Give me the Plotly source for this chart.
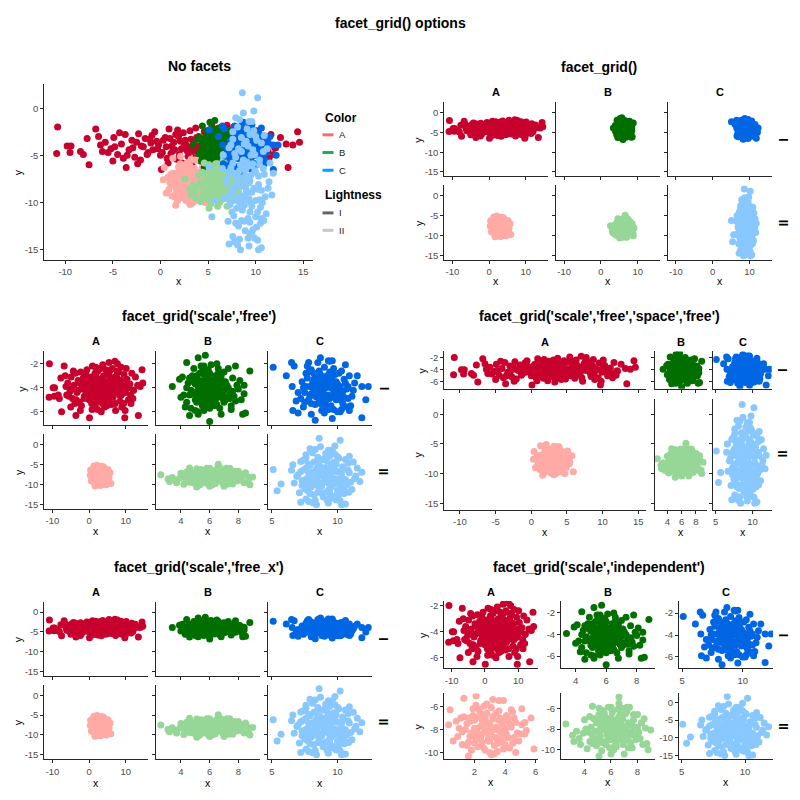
import plotly.graph_objects as go

# ---------------- data ----------------
A1_X = [-10.8, -10.9, -9.8, -9.4, -9.5, -8.4, -8.1, -7.5, -7.7, -6.8, -6.5, -6.1, -3.6, -2.4, 0.1, 9.7, 9.8, 13.4, 14.4, 14.6, 13.9, 13.2, 12.1, 11.9, 7.0, 7.7,
        -5.8, -5.2, -4.9, -4.5, -4.1, -3.7, -3.3, -3.0, -2.7, -2.3, -2.0, -1.6, -1.3, -1.0, -0.6, -0.3, 0.0, 0.3, 0.6, 0.9,
        1.1, 1.4, 1.7, 1.9, 2.2, 2.4, 2.7, 2.9, 3.2, 3.4, 3.7, 3.9, 4.2, 4.4, 4.7, 4.9, 5.2, 5.5, 5.7, 6.0,
        6.3, 6.5, 6.8, 7.1, 7.4, 7.7, 8.0, 8.3, 8.6, 8.9, 9.2, 9.5, 9.9, 10.3, 10.7, 11.1, 11.6, 12.0,
        -4.8, -2.5, -0.8, 0.5, 1.2, 2.0, 2.6, 3.0, 3.5, 4.0, 4.5, 5.0, 5.9, 6.6, 7.3, 8.1, 8.8, 10.0, -1.8, 1.6, 3.3, 5.4, -3.9, 11.3,
        -5.5, -4.3, -3.5, -2.9, -2.1, -1.4, -0.9, -0.4, 0.2, 0.7, 1.0, 1.5, 1.8, 2.3, 2.5, 2.8, 3.1, 3.6, 3.8, 4.1,
        4.6, 4.8, 5.3, 5.6, 6.1, 6.4, 6.9, 7.2, 7.6, 7.9, 8.4, 8.7, 9.0, 9.4, 10.1, 10.5, 11.4, -6.3, -5.0, 12.6,
        -1.1, 0.8, 2.1, 4.3, 6.2, 8.2, 3.6, 1.3, 5.8, -0.2]
A1_Y = [-2.0, -4.8, -4.0, -4.0, -4.7, -4.6, -4.9, -6.0, -3.2, -2.2, -3.0, -4.6, -6.3, -5.9, -6.5, -6.5, -5.9, -6.3, -2.5, -3.6, -3.9, -3.8, -4.2, -4.9, -1.8, -2.0,
        -3.6, -4.3, -3.1, -4.9, -3.8, -2.8, -4.4, -3.4, -5.2, -2.7, -4.0, -3.2, -4.7, -3.7, -2.5, -4.3, -5.0, -3.4, -4.1, -2.2,
        -4.8, -3.6, -5.4, -3.0, -4.3, -2.6, -3.9, -5.1, -3.3, -4.6, -2.1, -4.0, -5.6, -3.5, -4.4, -2.8, -3.9, -5.0, -3.1, -4.2,
        -2.4, -4.8, -3.6, -5.3, -3.0, -4.1, -2.7, -4.6, -3.4, -5.6, -3.9, -2.9, -4.4, -3.3, -5.0, -3.7, -2.8, -4.2,
        -4.1, -3.6, -4.4, -3.1, -4.0, -4.9, -3.4, -4.2, -3.8, -3.0, -5.2, -4.0, -3.5, -4.3, -3.9, -4.0, -4.6, -3.8, -4.1, -2.8, -6.0, -1.9, -5.3, -4.6,
        -4.7, -2.6, -5.0, -4.2, -5.5, -4.9, -2.9, -3.5, -4.7, -5.3, -3.2, -4.4, -2.3, -5.8, -3.7, -4.5, -2.4, -5.3, -3.1, -4.8,
        -2.5, -5.5, -4.6, -2.6, -5.4, -3.2, -4.4, -5.9, -2.6, -3.3, -5.1, -2.3, -4.1, -5.3, -2.4, -4.0, -5.3, -3.9, -5.6, -3.1,
        -3.3, -5.8, -3.5, -4.1, -3.8, -3.7, -4.4, -4.5, -4.7, -3.9]

B1_X = [3.4, 4.0, 4.4, 5.2, 5.7, 6.0, 7.8, 8.8, 8.4, 8.4, 8.3, 8.5, 7.5, 4.6, 5.2, 6.8, 3.9, 4.1, 4.3,
        4.6, 4.8, 5.0, 5.1, 5.3, 5.4, 5.5, 5.6, 5.7, 5.8, 5.9, 6.0, 6.1, 6.2, 6.3, 6.4, 6.5, 6.6, 6.7, 6.8,
        6.9, 7.0, 7.1, 7.2, 7.4, 7.6, 7.8, 4.4, 4.2, 4.7, 4.9, 5.2, 5.6, 6.1, 6.6, 7.3, 7.5, 8.0, 8.1, 4.5,
        5.0, 5.3, 5.5, 5.8, 5.9, 6.2, 6.4, 6.7, 6.9, 7.0, 5.2, 5.7, 6.3, 6.0, 4.8, 7.7, 5.4, 6.5,
        5.5, 6.0, 6.3, 5.7, 6.1, 5.4, 6.6, 5.9,
        4.7, 5.0, 5.3, 5.6, 5.9, 6.2, 6.5, 6.8, 7.1, 7.4, 4.9, 5.2, 5.5, 5.8, 6.1, 6.4, 6.7, 7.0, 7.3, 7.6,
        5.1, 5.4, 5.7, 6.0, 6.3, 6.6, 6.9, 4.6, 7.9, 5.0, 6.0, 6.4, 5.3, 6.8, 5.6, 7.2, 4.4, 8.2, 5.8, 6.2]
B1_Y = [-3.9, -4.8, -1.9, -1.5, -1.3, -6.8, -2.2, -2.6, -3.8, -4.5, -6.2, -6.1, -5.5, -6.3, -6.2, -6.2, -3.3, -3.1, -5.6,
        -3.2, -4.5, -3.7, -5.2, -2.8, -4.1, -4.9, -3.4, -5.6, -4.0, -2.5, -4.6, -3.6, -5.3, -4.2, -3.0, -4.8, -3.9, -5.7, -3.3,
        -4.4, -2.7, -5.0, -3.8, -4.5, -3.2, -5.1, -4.0, -4.6, -5.7, -2.4, -6.0, -2.2, -2.1, -2.4, -2.4, -5.8, -4.1, -3.4, -3.6,
        -4.4, -3.4, -5.5, -3.1, -4.8, -4.0, -5.0, -4.5, -3.6, -4.2, -4.7, -4.4, -3.4, -5.7, -3.0, -4.7, -2.2, -2.0,
        -3.9, -3.3, -4.9, -4.7, -4.3, -3.6, -3.5, -5.2,
        -4.2, -5.0, -3.9, -2.9, -4.5, -3.7, -5.4, -4.1, -3.5, -4.9, -3.5, -4.1, -2.6, -5.3, -3.9, -4.7, -3.1, -5.2, -4.0, -4.3,
        -3.0, -5.0, -3.7, -4.1, -5.5, -2.8, -4.9, -4.6, -3.8, -5.9, -2.8, -4.3, -4.4, -3.0, -5.9, -4.8, -5.2, -5.0, -4.4, -3.8]

C1_X = [5.1, 6.1, 6.5, 6.7, 7.8, 8.7, 9.3, 9.6, 11.5, 11.85, 12.35, 12.15, 11.85, 10.9, 10.2, 8.3, 9.6, 6.6, 7.0, 6.85, 6.55,
        7.3, 7.5, 7.6, 7.8, 7.9, 8.0, 8.1, 8.2, 8.3, 8.4, 8.5, 8.6, 8.7, 8.8, 8.9, 9.0, 9.1, 9.2, 9.3, 9.4,
        9.5, 9.6, 9.7, 9.8, 9.9, 10.0, 10.1, 10.3, 10.4, 10.5, 10.7, 10.9, 11.1, 11.3, 7.2, 7.4, 7.7, 8.0, 8.5, 9.0,
        9.4, 10.0, 10.6, 11.0, 8.3, 8.8, 9.1, 9.6, 10.2, 8.6, 9.3, 9.9, 8.1, 10.8, 7.6, 9.7,
        8.7, 9.2, 8.4, 9.5, 9.0, 8.9,
        7.4, 7.7, 8.0, 8.3, 8.6, 8.9, 9.2, 9.5, 9.8, 10.1, 10.4, 10.7, 7.9, 8.2, 8.5, 8.8, 9.1, 9.4, 9.7, 10.0,
        10.3, 10.6, 7.5, 8.1, 8.7, 9.3, 9.9, 10.5, 11.2, 7.0, 8.4, 9.0, 9.6, 10.2, 8.0, 9.4, 10.8, 8.6, 9.8, 7.8]
C1_Y = [-2.3, -3.0, -1.9, -2.2, -1.9, -1.5, -1.75, -1.75, -3.0, -3.9, -3.9, -5.0, -6.5, -5.9, -6.0, -6.7, -6.55, -5.9, -6.1, -5.1, -3.9,
        -3.5, -4.4, -2.8, -5.0, -3.9, -2.5, -4.6, -3.3, -5.4, -4.1, -2.9, -4.8, -3.6, -5.9, -4.3, -2.3, -5.1, -3.8, -4.6, -2.7,
        -5.5, -3.4, -4.2, -2.9, -5.0, -3.7, -4.5, -2.6, -5.3, -3.3, -4.1, -3.0, -4.7, -3.6, -4.9, -5.6, -2.2, -6.2, -1.9, -6.1,
        -1.8, -6.0, -2.1, -5.5, -3.9, -3.1, -4.0, -4.7, -3.9, -5.2, -3.2, -3.5, -3.6, -4.9, -3.9, -5.8,
        -4.4, -3.0, -4.8, -4.0, -3.5, -5.0,
        -4.0, -3.2, -5.3, -4.4, -2.6, -3.9, -5.6, -3.7, -4.5, -2.8, -4.3, -5.6, -4.7, -2.8, -3.9, -5.4, -3.3, -4.9, -2.4, -4.2,
        -5.8, -3.6, -5.2, -4.0, -2.9, -5.8, -4.0, -4.8, -4.2, -4.4, -3.4, -4.7, -3.0, -5.0, -4.5, -3.5, -3.9, -3.8, -4.8, -2.7]

A2_X = [0.4, 0.3, 0.6, 1.3, 2.1, 1.6, 3.2, 3.6, 3.9, 5.1, 5.7, 5.9, 4.7, 3.1, 5.4, 5.3,
        1.5, 1.7, 1.9, 2.0, 2.2, 2.3, 2.4, 2.5, 2.6, 2.7, 2.8, 2.9, 3.0, 3.1, 3.2, 3.3, 3.4, 3.5, 3.6, 3.7,
        3.8, 3.9, 4.0, 4.1, 4.2, 4.3, 4.5, 4.6, 4.8, 1.2, 1.3, 1.0, 1.8, 2.1, 2.6, 3.0, 3.5, 4.4, 4.9, 5.1,
        2.2, 2.8, 3.3, 3.8, 2.5, 3.6, 1.6, 4.0, 2.0, 3.1, 0.9, 4.7,
        2.4, 3.0, 2.7, 3.4, 3.9, 2.1,
        1.4, 1.7, 2.0, 2.3, 2.6, 2.9, 3.2, 3.5, 3.8, 4.1, 4.4, 1.6, 1.9, 2.2, 2.5, 2.8, 3.1, 3.4, 3.7, 4.0,
        4.3, 4.6, 1.1, 1.5, 2.4, 3.3, 4.2, 5.0, 0.8, 2.7, 3.6, 4.5, 2.0, 3.0, 4.0, 1.8, 2.9, 3.7, 5.3, 1.2]
A2_Y = [-6.3, -7.6, -9.0, -5.3, -5.1, -10.3, -5.4, -5.5, -5.5, -6.2, -7.0, -9.7, -10.0, -10.2, -8.1, -8.4,
        -7.5, -8.6, -6.8, -9.2, -7.9, -6.3, -8.8, -7.2, -9.6, -8.1, -6.6, -9.0, -7.6, -8.5, -6.9, -9.4, -7.8, -8.9, -6.4, -8.2,
        -7.3, -9.7, -8.0, -6.8, -8.7, -7.5, -9.2, -7.0, -8.3, -8.2, -6.9, -7.9, -9.8, -5.9, -6.0, -10.0, -9.9, -6.3, -9.0, -7.6,
        -8.4, -7.4, -8.0, -8.6, -9.1, -7.2, -7.0, -9.3, -7.2, -6.1, -8.6, -7.4,
        -7.7, -8.3, -7.0, -8.7, -7.8, -8.9,
        -8.0, -7.3, -8.5, -6.9, -7.7, -8.3, -7.1, -9.2, -7.6, -8.4, -7.8, -9.1, -6.2, -9.5, -8.4, -5.8, -7.9, -6.6, -9.1, -7.2,
        -9.6, -8.7, -7.0, -9.4, -6.6, -10.1, -7.0, -8.4, -7.3, -9.8, -8.1, -6.5, -7.9, -9.0, -8.7, -8.3, -8.8, -7.0, -7.4, -9.3]

B2_X = [2.6, 3.1, 3.2, 3.6, 3.7, 4.0, 4.6, 5.1, 5.1, 5.8, 6.0, 6.6, 6.6, 7.2, 7.4, 8.0, 8.6, 9.0, 8.7, 8.8, 8.4, 7.0, 6.0, 7.6,
        4.5, 4.7, 4.8, 4.9, 5.0, 5.1, 5.2, 5.3, 5.4, 5.5, 5.6, 5.7, 5.8, 5.9, 6.0, 6.1, 6.2, 6.3, 6.4, 6.5,
        6.6, 6.7, 6.8, 6.9, 7.0, 7.1, 7.2, 7.3, 7.5, 7.7, 7.9, 8.1, 4.3, 4.4, 4.2, 5.3, 6.2, 6.8, 7.6, 8.3,
        5.6, 6.0, 6.4, 5.0, 5.7, 6.6, 7.2, 4.6, 5.4, 6.9, 6.3, 5.9,
        5.5, 6.1, 5.8, 6.5, 5.2, 6.8,
        4.6, 4.9, 5.2, 5.5, 5.8, 6.1, 6.4, 6.7, 7.0, 7.3, 7.6, 4.8, 5.1, 5.4, 5.7, 6.0, 6.3, 6.6, 6.9, 7.2,
        7.5, 7.8, 4.1, 4.4, 5.0, 5.9, 6.5, 7.1, 8.2, 8.5, 3.9, 5.3, 6.2, 7.4, 8.0, 4.7, 5.6, 6.8, 7.7, 3.4]
B2_Y = [-7.5, -8.6, -9.2, -8.9, -9.5, -7.1, -5.8, -6.0, -10.6, -5.9, -5.9, -4.9, -5.5, -5.9, -5.9, -6.6, -7.9, -8.1, -9.4, -10.0, -9.5, -10.4, -10.4, -8.2,
        -7.8, -8.9, -7.0, -9.6, -8.2, -6.6, -8.7, -7.4, -9.3, -8.0, -6.9, -8.5, -7.6, -9.8, -8.1, -6.4, -8.8, -7.3, -9.2, -7.9,
        -6.8, -8.4, -7.6, -9.5, -8.0, -6.5, -8.9, -7.4, -8.6, -7.1, -9.0, -8.3, -8.3, -6.8, -9.9, -10.1, -10.0, -6.0, -9.8, -7.4,
        -7.8, -9.0, -7.1, -8.9, -9.1, -8.6, -7.7, -9.4, -6.2, -7.0, -8.4, -7.2,
        -7.5, -8.5, -8.3, -8.2, -7.9, -8.8,
        -8.6, -7.4, -9.1, -6.5, -8.8, -7.3, -9.7, -6.6, -8.7, -9.8, -7.6, -8.2, -9.3, -7.0, -8.1, -6.9, -9.6, -7.4, -8.3, -6.3,
        -9.3, -8.5, -8.0, -9.2, -7.2, -8.6, -6.1, -9.1, -8.9, -7.0, -8.4, -8.1, -7.6, -8.3, -7.8, -7.0, -9.5, -9.0, -6.6, -8.2]

C2_X = [5.1, 5.4, 5.7, 8.6, 10.2, 7.6, 8.3, 9.3, 9.6, 10.9, 11.85, 11.7, 7.8, 8.4, 10.3, 10.2, 9.4, 10.85, 6.6, 6.5, 6.7,
        7.0, 7.2, 7.3, 7.4, 7.5, 7.6, 7.7, 7.8, 7.9, 8.0, 8.1, 8.2, 8.3, 8.4, 8.5, 8.6, 8.7, 8.8, 8.9, 9.0,
        9.1, 9.2, 9.3, 9.4, 9.5, 9.6, 9.7, 9.8, 9.9, 10.0, 10.1, 10.2, 10.3, 10.4, 10.5, 10.6, 10.8, 11.0, 11.2, 11.4,
        7.1, 7.6, 8.1, 8.7, 9.3, 9.9, 10.6, 8.4, 9.0, 9.6, 8.8, 9.2, 8.0, 10.0, 7.4, 9.5, 10.4, 8.5, 11.1, 7.9,
        9.8, 11.5, 7.2, 8.2, 9.4, 8.9, 9.1,
        7.3, 7.6, 7.9, 8.2, 8.5, 8.8, 9.1, 9.4, 9.7, 10.0, 10.3, 10.6, 10.9, 7.5, 7.8, 8.1, 8.4, 8.7, 9.0, 9.3,
        9.6, 9.9, 10.2, 10.5, 10.8, 7.2, 7.7, 8.3, 8.9, 9.5, 10.1, 10.7, 8.0, 8.6, 9.2, 9.8, 10.4, 7.4, 8.8, 9.6,
        11.3, 6.9, 9.0, 10.0, 8.2, 9.4, 8.5, 9.7, 7.7, 10.6]
C2_Y = [-6.2, -11.5, -9.8, 1.65, 1.1, -2.5, -1.2, -1.4, -1.4, -2.9, -6.9, -9.2, -14.2, -15.0, -15.0, -14.0, -13.3, -11.9, -5.0, -6.4, -9.6,
        -7.5, -4.2, -10.2, -6.3, -8.8, -3.3, -11.4, -7.0, -5.2, -9.5, -2.0, -12.5, -6.6, -8.3, -4.6, -10.8, -7.4, -3.8, -13.0, -9.0,
        -5.7, -11.7, -7.9, -2.8, -10.0, -6.1, -12.9, -8.5, -4.9, -9.8, -3.4, -11.0, -7.2, -5.5, -12.2, -8.7, -6.4, -9.4, -4.3, -7.8,
        -12.0, -13.6, -14.5, -0.5, -14.6, -13.8, -14.8, -6.0, -7.2, -8.9, -10.3, -4.0, -8.1, -6.8, -9.2, -5.0, -9.7, -11.9, -11.2, -1.0,
        -0.3, -5.8, -14.4, -9.9, -11.0, -6.5, -2.2,
        -9.0, -5.8, -12.2, -7.5, -3.1, -9.9, -6.2, -12.1, -4.4, -11.5, -8.1, -3.7, -7.0, -11.0, -4.8, -6.9, -10.1, -5.5, -3.5, -9.6,
        -13.3, -6.6, -8.6, -10.5, -4.6, -6.7, -8.4, -13.9, -8.0, -7.1, -12.6, -10.0, -10.6, -6.3, -13.8, -2.4, -6.0, -3.9, -12.0, -10.4,
        -8.5, -7.9, -8.6, -3.0, -4.3, -7.7, -9.3, -5.9, -9.7, -11.7]

COLOR_NAMES = ["A", "B", "C"]
LIGHTNESS_NAMES = ["I", "II"]
GROUP_ORDER = ["A-I", "A-II", "B-I", "B-II", "C-I", "C-II"]
GROUP_COLORS = {"A-I": "#c8002e", "A-II": "#ffaaa5", "B-I": "#006f00", "B-II": "#96d696",
                "C-I": "#0066e3", "C-II": "#88c8ff"}
LEGEND_COLOR_SWATCH = ["#ff6b6b", "#1ab04c", "#00a2ff"]
LEGEND_LIGHT_SWATCH = ["#666666", "#c8c8c8"]

TICKS_XWIDE = [-10, -5, 0, 5, 10, 15]
TICKS_XA = [-10, 0, 10]
TICKS_XB = [4, 6, 8]
TICKS_XC = [5, 10]
TICKS_XA2 = [2, 4, 6]
TICKS_YFULL = [0, -5, -10, -15]
TICKS_YI = [-2, -4, -6]
TICKS_YII = [-6, -8, -10]

MAIN_TITLE = "facet_grid() options"
PANEL_TITLES = ["No facets", "facet_grid()", "facet_grid('scale','free')",
                "facet_grid('scale','free','space','free')", "facet_grid('scale','free_x')",
                "facet_grid('scale','independent')"]

GROUPS = {"A-I": (A1_X, A1_Y), "A-II": (A2_X, A2_Y), "B-I": (B1_X, B1_Y),
          "B-II": (B2_X, B2_Y), "C-I": (C1_X, C1_Y), "C-II": (C2_X, C2_Y)}

# ---------------- figure ----------------
W = H = 800
FONT = "Liberation Sans, Arial, Helvetica, sans-serif"
AX = "#262626"
TK = "#4d4d4d"


def fx(p):
    return p / W


def fy(p):
    return 1 - p / H


fig = go.Figure()
counter = [0]
annotations = []
shapes = []


def lab(v):
    return "%g" % v


def text(x, y, s, size, bold=False, angle=0, xanchor="center", color="#000"):
    annotations.append(dict(x=fx(x), y=fy(y), xref="paper", yref="paper",
                            text=("<b>%s</b>" % s) if bold else s, showarrow=False,
                            font=dict(family=FONT, size=size, color=color),
                            xanchor=xanchor, yanchor="middle", textangle=angle, borderpad=0))


def cell(xpx, ypx, xr, yr, xt, yt, show_xl, show_yl, groups):
    counter[0] += 1
    n = counter[0]
    s = "" if n == 1 else str(n)
    common = dict(showline=True, linecolor=AX, linewidth=1, ticks="outside", ticklen=3,
                  tickcolor=AX, tickwidth=1, showgrid=False, zeroline=False, fixedrange=True,
                  tickfont=dict(family=FONT, size=9.5, color=TK))
    fig.update_layout(**{
        "xaxis" + s: dict(domain=[fx(xpx[0]), fx(xpx[1])], range=xr, anchor="y" + s,
                          tickmode="array", tickvals=xt, ticktext=[lab(v) for v in xt],
                          showticklabels=show_xl, **common),
        "yaxis" + s: dict(domain=[fy(ypx[1]), fy(ypx[0])], range=yr, anchor="x" + s,
                          tickmode="array", tickvals=yt, ticktext=[lab(v) for v in yt],
                          showticklabels=show_yl, **common),
    })
    for g in groups:
        gx, gy = GROUPS[g]
        fig.add_trace(go.Scatter(x=gx, y=gy, mode="markers", xaxis="x" + s, yaxis="y" + s,
                                 marker=dict(size=7, color=GROUP_COLORS[g], line=dict(width=0)),
                                 showlegend=False, hoverinfo="skip"))


XR_ALL = [-12.2, 16.05]
YR_ALL = [-16.1, 2.6]
XR_B = [2.27, 9.5]
XR_C = [4.7, 12.6]
YR_I = [-7.13, -0.98]

# Panel 1 : no facets
cell((44.3, 313.3), (83, 260), XR_ALL, YR_ALL, TICKS_XWIDE, TICKS_YFULL, True, True, GROUP_ORDER)
text(199, 65, PANEL_TITLES[0], 14, bold=True)
text(178.8, 281, "x", 10.5)
text(18.3, 171.5, "y", 10.5, angle=-90)
# legend
text(324, 117.3, "Color", 12, bold=True, xanchor="left")
for i, (nm, c) in enumerate(zip(COLOR_NAMES, LEGEND_COLOR_SWATCH)):
    yy = 134.3 + i * 17.8
    shapes.append(dict(type="line", xref="paper", yref="paper", x0=fx(322.5), x1=fx(333.5),
                       y0=fy(yy), y1=fy(yy), line=dict(color=c, width=3)))
    text(337.5, yy, nm, 9.5, xanchor="left", color="#222")
text(324, 195, "Lightness", 12, bold=True, xanchor="left")
for i, (nm, c) in enumerate(zip(LIGHTNESS_NAMES, LEGEND_LIGHT_SWATCH)):
    yy = 212.7 + i * 17.5
    shapes.append(dict(type="line", xref="paper", yref="paper", x0=fx(322.5), x1=fx(333.5),
                       y0=fy(yy), y1=fy(yy), line=dict(color=c, width=3)))
    text(337.5, yy, nm, 9.5, xanchor="left", color="#222")

GRID_COLS = [(444.3, 548.1), (556.1, 659.9), (667.9, 771.7)]
LEFT_COLS = [(a - 400, b - 400) for a, b in GRID_COLS]
ROW_GROUPS = [["A-I", "B-I", "C-I"], ["A-II", "B-II", "C-II"]]


def facet_panel(cols, rows, xrs, yrs, xts, yts, all_labels, title, title_xy,
                strip_y, xtitle_y, rowlab_x):
    for r in range(2):
        for c in range(3):
            show_xl = all_labels or r == 1
            show_yl = all_labels or c == 0
            cell(cols[c], rows[r], xrs[r][c], yrs[r][c], xts[r][c], yts[r][c],
                 show_xl, show_yl, [ROW_GROUPS[r][c]])
    text(title_xy[0], title_xy[1], title, 14, bold=True)
    for c in range(3):
        cx = (cols[c][0] + cols[c][1]) / 2
        text(cx, strip_y, COLOR_NAMES[c], 11, bold=True)
        text(cx, xtitle_y, "x", 10.5)
    for r in range(2):
        cy = (rows[r][0] + rows[r][1]) / 2
        text(rowlab_x, cy, LIGHTNESS_NAMES[r], 12, bold=True, angle=90)
        widest = max(len(lab(v)) for v in yts[r][0])
        text(cols[0][0] - (26 if widest >= 3 else 22), cy, "y", 10.5, angle=-90)


# Panel 2 : facet_grid()
facet_panel(GRID_COLS, [(101.7, 176), (185, 260)],
            [[XR_ALL] * 3] * 2, [[YR_ALL] * 3] * 2,
            [[TICKS_XA] * 3] * 2, [[TICKS_YFULL] * 3] * 2,
            False, PANEL_TITLES[1], (599, 66), 91.7, 281, 783)

# Panel 3 : scale free
facet_panel(LEFT_COLS, [(351.7, 426), (435, 510)],
            [[XR_ALL, XR_B, XR_C]] * 2, [[YR_I] * 3, [YR_ALL] * 3],
            [[TICKS_XA, TICKS_XB, TICKS_XC]] * 2, [[TICKS_YI] * 3, [TICKS_YFULL] * 3],
            False, PANEL_TITLES[2], (199.3, 316), 341.7, 531.5, 383.3)

# Panel 4 : scale free, space free
facet_panel([(444.3, 645.7), (655, 706.7), (713.3, 771.7)], [(351.7, 389.3), (399.3, 510.7)],
            [[XR_ALL, XR_B, XR_C]] * 2, [[YR_I] * 3, [YR_ALL] * 3],
            [[TICKS_XWIDE, TICKS_XB, TICKS_XC]] * 2, [[TICKS_YI] * 3, [TICKS_YFULL] * 3],
            False, PANEL_TITLES[3], (599.3, 316), 342.3, 532.5, 781.7)

# Panel 5 : scale free_x
facet_panel(LEFT_COLS, [(603, 677.5), (686.5, 761)],
            [[XR_ALL, XR_B, XR_C]] * 2, [[YR_ALL] * 3] * 2,
            [[TICKS_XA, TICKS_XB, TICKS_XC]] * 2, [[TICKS_YFULL] * 3] * 2,
            False, PANEL_TITLES[4], (199.3, 568.3), 593.3, 784.5, 383.3)

# Panel 6 : independent
facet_panel([(444.3, 538.3), (561, 655), (679, 773)], [(602.3, 670), (695, 761)],
            [[[-12.2, 16.0], [3.04, 9.2], [4.75, 12.5]], [[0.02, 6.18], [2.23, 9.32], [4.8, 12.2]]],
            [[[-6.82, -1.65], [-7.15, -0.9], [-7.05, -0.9]], [[-10.57, -4.88], [-10.9, -4.56], [-16.0, 2.5]]],
            [[TICKS_XA, TICKS_XB, TICKS_XC], [TICKS_XA2, TICKS_XB, TICKS_XC]],
            [[TICKS_YI, TICKS_YI, TICKS_YI], [TICKS_YII, TICKS_YII, TICKS_YFULL]],
            True, PANEL_TITLES[5], (599.3, 568.3), 593.3, 784, 783)

text(400, 22, MAIN_TITLE, 14, bold=True)

fig.update_layout(width=W, height=H, margin=dict(l=0, r=0, t=0, b=0), autosize=False,
                  paper_bgcolor="white", plot_bgcolor="white", showlegend=False,
                  annotations=annotations, shapes=shapes)

fig.write_html("out.html", config={"displayModeBar": False, "staticPlot": True},
               post_script="document.body.style.margin='0px';")
